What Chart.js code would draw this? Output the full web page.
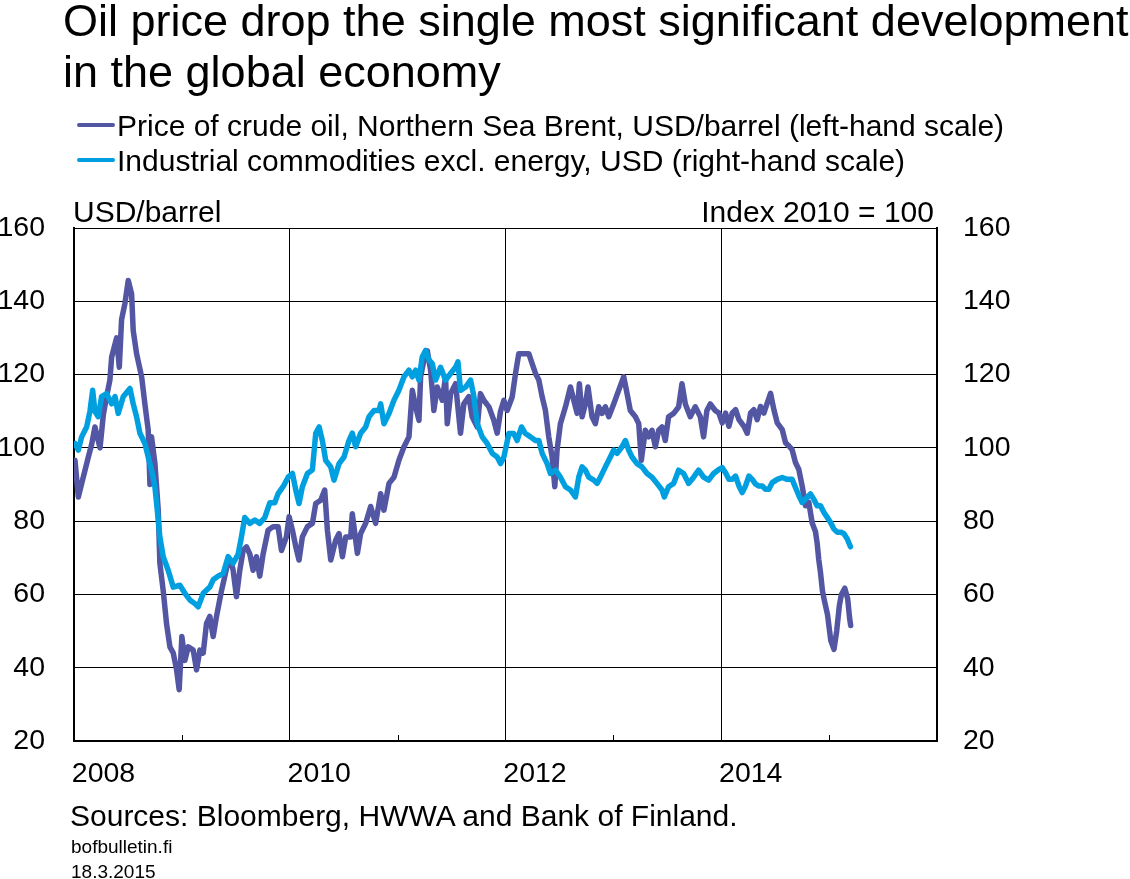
<!DOCTYPE html>
<html lang="en">
<head>
    <meta charset="UTF-8">
    <title>Oil price drop the single most significant development in the global economy</title>
    <script src="https://cdn.jsdelivr.net/npm/chart.js"></script>
    <style>
        body {
            margin: 0;
            padding: 0;
            background: #fff;
            font-family: 'Liberation Sans', Arial, sans-serif;
            color: #000;
        }

        #wrap {
            position: relative;
            width: 1130px;
            height: 879px;
            overflow: hidden;
        }

        #chartBox {
            position: absolute;
            left: 0;
            top: 0;
            width: 1130px;
            height: 879px;
        }

        .txt {
            position: absolute;
            white-space: nowrap;
            line-height: 1;
        }

        #title {
            left: 63px;
            top: -5px;
            font-size: 45px;
            line-height: 51px;
        }

        .legend-row {
            position: absolute;
            left: 77px;
            height: 35px;
            white-space: nowrap;
            font-size: 30px;
            line-height: 35px;
        }

        .legend-row .swatch {
            position: absolute;
            left: 0;
            top: 15px;
            width: 38px;
            height: 4px;
            border-radius: 2px;
        }

        .legend-row .label {
            position: absolute;
            left: 40px;
            top: 0;
        }
    </style>
</head>
<body>
<div id="wrap">
    <div id="chartBox"><canvas id="chart"></canvas></div>

    <div id="title" class="txt">Oil price drop the single most significant development<br>in the global economy</div>

    <div class="legend-row" style="top:108px">
        <span class="swatch" style="background:#5356a2"></span>
        <span class="label">Price of crude oil, Northern Sea Brent, USD/barrel (left-hand scale)</span>
    </div>
    <div class="legend-row" style="top:143px">
        <span class="swatch" style="background:#00a0e0"></span>
        <span class="label">Industrial commodities excl. energy, USD (right-hand scale)</span>
    </div>

    <div class="txt" style="left:73px; top:197px; font-size:30px;">USD/barrel</div>
    <div class="txt" style="right:196px; top:197px; font-size:30px;">Index 2010 = 100</div>

    <div class="txt" style="left:70px; top:801px; font-size:30px;">Sources: Bloomberg, HWWA and Bank of Finland.</div>
    <div class="txt" style="left:71px; top:837px; font-size:19px;">bofbulletin.fi</div>
    <div class="txt" style="left:71px; top:862px; font-size:19px;">18.3.2015</div>
</div>

<script>
    // Brent crude, USD/barrel (left-hand scale)
    const oilYears = [
        2008.009, 2008.040, 2008.086, 2008.133, 2008.164, 2008.194, 2008.241, 2008.272, 2008.302, 2008.333,
        2008.349, 2008.395, 2008.420, 2008.441, 2008.472, 2008.503, 2008.534, 2008.549, 2008.580, 2008.627,
        2008.657, 2008.688, 2008.704, 2008.719, 2008.750, 2008.781, 2008.796, 2008.827, 2008.858, 2008.889,
        2008.920, 2008.951, 2008.975, 2009.000, 2009.028, 2009.059, 2009.105, 2009.136, 2009.167, 2009.198,
        2009.228, 2009.259, 2009.290, 2009.321, 2009.367, 2009.398, 2009.429, 2009.460, 2009.475, 2009.506,
        2009.537, 2009.568, 2009.599, 2009.630, 2009.660, 2009.691, 2009.722, 2009.753, 2009.799, 2009.846,
        2009.892, 2009.923, 2009.969, 2009.994, 2010.025, 2010.056, 2010.086, 2010.117, 2010.164, 2010.210,
        2010.241, 2010.287, 2010.324, 2010.349, 2010.380, 2010.426, 2010.457, 2010.488, 2010.519, 2010.565,
        2010.580, 2010.627, 2010.657, 2010.704, 2010.750, 2010.796, 2010.843, 2010.873, 2010.920, 2010.966,
        2011.012, 2011.059, 2011.105, 2011.136, 2011.167, 2011.198, 2011.213, 2011.244, 2011.275, 2011.306,
        2011.336, 2011.367, 2011.414, 2011.444, 2011.460, 2011.491, 2011.537, 2011.583, 2011.614, 2011.660,
        2011.691, 2011.738, 2011.768, 2011.799, 2011.846, 2011.892, 2011.923, 2011.954, 2011.985, 2012.015,
        2012.062, 2012.093, 2012.123, 2012.170, 2012.216, 2012.247, 2012.278, 2012.309, 2012.340, 2012.370,
        2012.401, 2012.432, 2012.457, 2012.478, 2012.509, 2012.556, 2012.602, 2012.633, 2012.664, 2012.685,
        2012.710, 2012.741, 2012.765, 2012.802, 2012.833, 2012.864, 2012.895, 2012.926, 2012.957, 2013.003,
        2013.049, 2013.096, 2013.127, 2013.157, 2013.204, 2013.235, 2013.259, 2013.296, 2013.327, 2013.358,
        2013.389, 2013.420, 2013.451, 2013.481, 2013.512, 2013.559, 2013.605, 2013.636, 2013.667, 2013.713,
        2013.759, 2013.806, 2013.836, 2013.867, 2013.898, 2013.944, 2013.978, 2014.009, 2014.040, 2014.071,
        2014.102, 2014.133, 2014.164, 2014.210, 2014.241, 2014.272, 2014.302, 2014.333, 2014.364, 2014.395,
        2014.426, 2014.457, 2014.488, 2014.519, 2014.565, 2014.596, 2014.627, 2014.657, 2014.688, 2014.719,
        2014.750, 2014.781, 2014.812, 2014.843, 2014.873, 2014.889, 2014.904, 2014.920, 2014.938, 2014.955,
        2014.985, 2015.015, 2015.045, 2015.070, 2015.095, 2015.114, 2015.145, 2015.172, 2015.190, 2015.200
    ];
    const oilValues = [
        96.6, 86.6, 92.0, 97.5, 101.0, 105.7, 100.0, 109.0, 114.0, 118.5,
        124.8, 130.0, 122.0, 135.0, 139.4, 145.7, 142.0, 132.0, 125.7, 119.4,
        112.0, 104.8, 90.0, 103.0, 95.7, 83.0, 68.5, 61.0, 52.0, 45.7,
        44.0, 39.4, 34.0, 48.5, 42.0, 45.7, 44.8, 39.4, 44.8, 44.0,
        52.0, 54.0, 48.5, 54.0, 61.0, 65.0, 69.0, 68.5, 66.6, 59.4,
        66.6, 72.0, 73.0, 71.0, 66.6, 70.3, 65.0, 71.0, 77.5, 78.5,
        78.5, 72.0, 75.7, 81.2, 77.5, 73.0, 69.4, 75.7, 78.5, 79.4,
        84.8, 85.7, 88.5, 77.5, 69.4, 74.8, 76.6, 70.3, 75.7, 75.7,
        82.0, 71.2, 76.6, 79.4, 84.0, 79.4, 87.5, 83.0, 90.3, 92.0,
        96.6, 100.3, 103.0, 115.7, 111.2, 107.5, 119.4, 124.0, 126.5, 121.2,
        110.2, 116.6, 113.0, 119.4, 106.6, 114.8, 117.5, 104.0, 112.0, 114.0,
        108.5, 105.7, 114.8, 113.0, 111.2, 107.5, 104.0, 110.0, 113.0, 110.2,
        113.9, 120.3, 125.7, 125.7, 125.7, 123.0, 120.3, 118.5, 113.9, 110.2,
        103.0, 97.5, 89.4, 99.4, 106.6, 111.2, 116.6, 113.0, 109.4, 117.5,
        108.5, 112.0, 116.6, 108.5, 106.6, 111.2, 109.4, 111.2, 108.5, 112.0,
        115.7, 119.4, 114.8, 110.2, 108.5, 106.6, 96.6, 104.8, 103.0, 104.8,
        100.3, 104.8, 105.7, 102.0, 108.5, 109.4, 111.2, 117.5, 112.0, 108.5,
        111.2, 108.5, 103.0, 110.2, 112.0, 110.2, 109.5, 106.8, 109.5, 105.9,
        109.5, 110.4, 107.7, 105.9, 104.0, 109.5, 110.4, 107.7, 111.3, 109.5,
        112.2, 114.9, 110.4, 106.8, 105.0, 101.4, 100.5, 99.5, 96.0, 94.1,
        89.6, 84.2, 85.1, 79.5, 77.2, 74.0, 69.5, 66.0, 61.0, 58.5,
        54.5, 47.5, 45.0, 50.0, 57.0, 60.0, 61.7, 58.8, 53.5, 51.5
    ];

    // Industrial commodities excl. energy, index 2010 = 100 (right-hand scale)
    const indYears = [
        2008.009, 2008.040, 2008.071, 2008.117, 2008.148, 2008.173, 2008.194, 2008.225, 2008.256, 2008.302,
        2008.349, 2008.380, 2008.410, 2008.457, 2008.519, 2008.549, 2008.580, 2008.611, 2008.657, 2008.688,
        2008.719, 2008.750, 2008.772, 2008.796, 2008.827, 2008.873, 2008.920, 2008.981, 2009.028, 2009.074,
        2009.120, 2009.151, 2009.198, 2009.259, 2009.290, 2009.336, 2009.383, 2009.429, 2009.475, 2009.522,
        2009.552, 2009.583, 2009.630, 2009.676, 2009.722, 2009.769, 2009.815, 2009.861, 2009.892, 2009.938,
        2009.985, 2010.025, 2010.056, 2010.086, 2010.117, 2010.164, 2010.210, 2010.241, 2010.272, 2010.302,
        2010.333, 2010.380, 2010.410, 2010.457, 2010.503, 2010.549, 2010.580, 2010.611, 2010.657, 2010.704,
        2010.735, 2010.781, 2010.827, 2010.843, 2010.873, 2010.920, 2010.966, 2011.012, 2011.059, 2011.105,
        2011.136, 2011.167, 2011.198, 2011.228, 2011.259, 2011.290, 2011.321, 2011.352, 2011.398, 2011.444,
        2011.491, 2011.537, 2011.559, 2011.583, 2011.630, 2011.676, 2011.707, 2011.738, 2011.784, 2011.830,
        2011.877, 2011.923, 2011.954, 2011.985, 2012.031, 2012.077, 2012.108, 2012.148, 2012.185, 2012.231,
        2012.278, 2012.309, 2012.340, 2012.386, 2012.417, 2012.463, 2012.509, 2012.556, 2012.602, 2012.648,
        2012.679, 2012.710, 2012.741, 2012.772, 2012.818, 2012.849, 2012.880, 2012.926, 2012.972, 2013.003,
        2013.034, 2013.080, 2013.111, 2013.142, 2013.173, 2013.219, 2013.265, 2013.312, 2013.358, 2013.404,
        2013.451, 2013.472, 2013.512, 2013.559, 2013.605, 2013.651, 2013.698, 2013.744, 2013.790, 2013.836,
        2013.883, 2013.929, 2013.978, 2014.009, 2014.040, 2014.071, 2014.102, 2014.133, 2014.164, 2014.194,
        2014.225, 2014.256, 2014.287, 2014.318, 2014.349, 2014.380, 2014.410, 2014.441, 2014.472, 2014.519,
        2014.565, 2014.611, 2014.657, 2014.688, 2014.719, 2014.750, 2014.781, 2014.827, 2014.858, 2014.889,
        2014.920, 2014.951, 2014.981, 2015.012, 2015.043, 2015.074, 2015.105, 2015.136, 2015.167, 2015.198
    ];
    const indValues = [
        101.2, 99.4, 103.0, 105.7, 110.0, 115.7, 110.0, 108.5, 114.0, 114.8,
        112.0, 114.0, 109.4, 114.0, 116.2, 112.0, 108.5, 104.0, 101.2, 97.5,
        93.9, 89.4, 83.0, 75.7, 70.3, 66.6, 62.0, 62.5, 60.3, 58.5,
        57.5, 56.6, 60.3, 62.0, 64.0, 65.0, 65.7, 70.3, 68.5, 71.0,
        75.7, 81.0, 79.4, 80.3, 79.4, 81.0, 85.0, 85.0, 87.5, 89.4,
        92.0, 93.0, 88.5, 84.8, 89.4, 93.0, 94.0, 104.0, 105.7, 102.0,
        96.6, 94.8, 91.2, 95.7, 97.5, 102.0, 104.0, 100.3, 104.0, 105.7,
        108.5, 110.2, 110.2, 112.0, 106.6, 109.4, 113.0, 115.7, 119.4, 121.2,
        119.4, 121.2, 118.5, 124.8, 126.6, 124.0, 123.0, 118.5, 122.0, 118.5,
        120.3, 122.0, 123.5, 115.7, 116.6, 118.5, 114.0, 106.6, 103.0, 101.2,
        98.5, 97.5, 95.7, 97.5, 103.9, 103.9, 102.0, 105.7, 103.9, 103.0,
        102.0, 102.0, 98.5, 95.7, 93.0, 93.9, 92.0, 89.4, 88.5, 86.6,
        92.0, 94.8, 93.9, 92.0, 91.2, 90.3, 92.0, 94.8, 97.5, 99.4,
        98.5, 100.3, 102.0, 99.4, 97.5, 95.7, 94.8, 93.0, 92.0, 90.3,
        88.5, 86.6, 89.4, 90.3, 93.9, 93.0, 90.3, 92.0, 93.9, 92.0,
        91.2, 93.0, 94.1, 94.6, 93.2, 91.4, 91.4, 92.3, 89.6, 87.8,
        89.6, 92.3, 91.4, 90.1, 89.6, 89.6, 88.7, 88.7, 90.5, 91.4,
        91.9, 91.4, 91.4, 89.2, 87.0, 85.1, 86.0, 87.4, 86.0, 84.2,
        84.2, 82.4, 81.1, 79.7, 77.9, 77.0, 77.0, 76.6, 75.2, 73.0
    ];

    const yearTicks = [2008, 2010, 2012, 2014];
    const minorYears = [2009, 2011, 2013, 2015];
    const yTicks = [20, 40, 60, 80, 100, 120, 140, 160];

    const oilColor = '#5356a2';
    const indColor = '#00a0e0';
    const fontFamily = "'Liberation Sans', Arial, sans-serif";

    // small inward tick marks on odd years
    const minorTicks = {
        id: 'minorTicks',
        afterDraw(chart) {
            const ctx = chart.ctx;
            const xs = chart.scales.x;
            const bottom = chart.chartArea.bottom;
            ctx.save();
            ctx.strokeStyle = '#000';
            ctx.lineWidth = 1;
            minorYears.forEach(yr => {
                const px = Math.round(xs.getPixelForValue(yr)) + 0.5;
                ctx.beginPath();
                ctx.moveTo(px, bottom);
                ctx.lineTo(px, bottom - 6);
                ctx.stroke();
            });
            ctx.restore();
        }
    };

    const tickFont = { family: fontFamily, size: 28.5 };

    new Chart(document.getElementById('chart'), {
        type: 'line',
        data: {
            datasets: [
                {
                    label: 'Price of crude oil, Northern Sea Brent, USD/barrel (left-hand scale)',
                    data: oilYears.map((x, i) => ({ x: x, y: oilValues[i] })),
                    borderColor: oilColor,
                    borderWidth: 5.5,
                    pointRadius: 0,
                    tension: 0,
                    borderJoinStyle: 'round',
                    borderCapStyle: 'round',
                    yAxisID: 'y',
                    order: 1
                },
                {
                    label: 'Industrial commodities excl. energy, USD (right-hand scale)',
                    data: indYears.map((x, i) => ({ x: x, y: indValues[i] })),
                    borderColor: indColor,
                    borderWidth: 5.5,
                    pointRadius: 0,
                    tension: 0,
                    borderJoinStyle: 'round',
                    borderCapStyle: 'round',
                    yAxisID: 'y2',
                    order: 0
                }
            ]
        },
        options: {
            responsive: true,
            maintainAspectRatio: false,
            animation: false,
            events: [],
            layout: { padding: { top: 228, left: 0, right: 0, bottom: 0 } },
            plugins: {
                legend: { display: false },
                tooltip: { enabled: false }
            },
            scales: {
                x: {
                    type: 'linear',
                    min: 2008,
                    max: 2016,
                    afterBuildTicks: (s) => {
                        s.ticks = [2008, 2009, 2010, 2011, 2012, 2013, 2014, 2015, 2016].map(v => ({ value: v }));
                    },
                    afterFit: (s) => { s.height = 138; },
                    ticks: {
                        autoSkip: false,
                        maxRotation: 0,
                        color: '#000',
                        font: tickFont,
                        padding: 16,
                        labelOffset: 29.5,
                        callback: (v) => yearTicks.includes(v) ? String(v) : ''
                    },
                    grid: {
                        drawTicks: false,
                        lineWidth: 1,
                        color: (c) => (c.tick && yearTicks.concat([2016]).includes(c.tick.value)) ? '#000' : 'rgba(0,0,0,0)'
                    },
                    border: { display: true, color: '#000', width: 2 }
                },
                y: {
                    position: 'left',
                    min: 20,
                    max: 160,
                    afterBuildTicks: (s) => { s.ticks = yTicks.map(v => ({ value: v })); },
                    afterFit: (s) => { s.width = 74; },
                    ticks: {
                        color: '#000',
                        font: tickFont,
                        padding: 29
                    },
                    grid: { drawTicks: false, color: '#000', lineWidth: 1 },
                    border: { display: true, color: '#000', width: 2 }
                },
                y2: {
                    position: 'right',
                    min: 20,
                    max: 160,
                    afterBuildTicks: (s) => { s.ticks = yTicks.map(v => ({ value: v })); },
                    afterFit: (s) => { s.width = 193; },
                    ticks: {
                        color: '#000',
                        font: tickFont,
                        padding: 26
                    },
                    grid: { display: false, drawTicks: false },
                    border: { display: true, color: '#000', width: 2 }
                }
            }
        },
        plugins: [minorTicks]
    });
</script>
</body>
</html>
